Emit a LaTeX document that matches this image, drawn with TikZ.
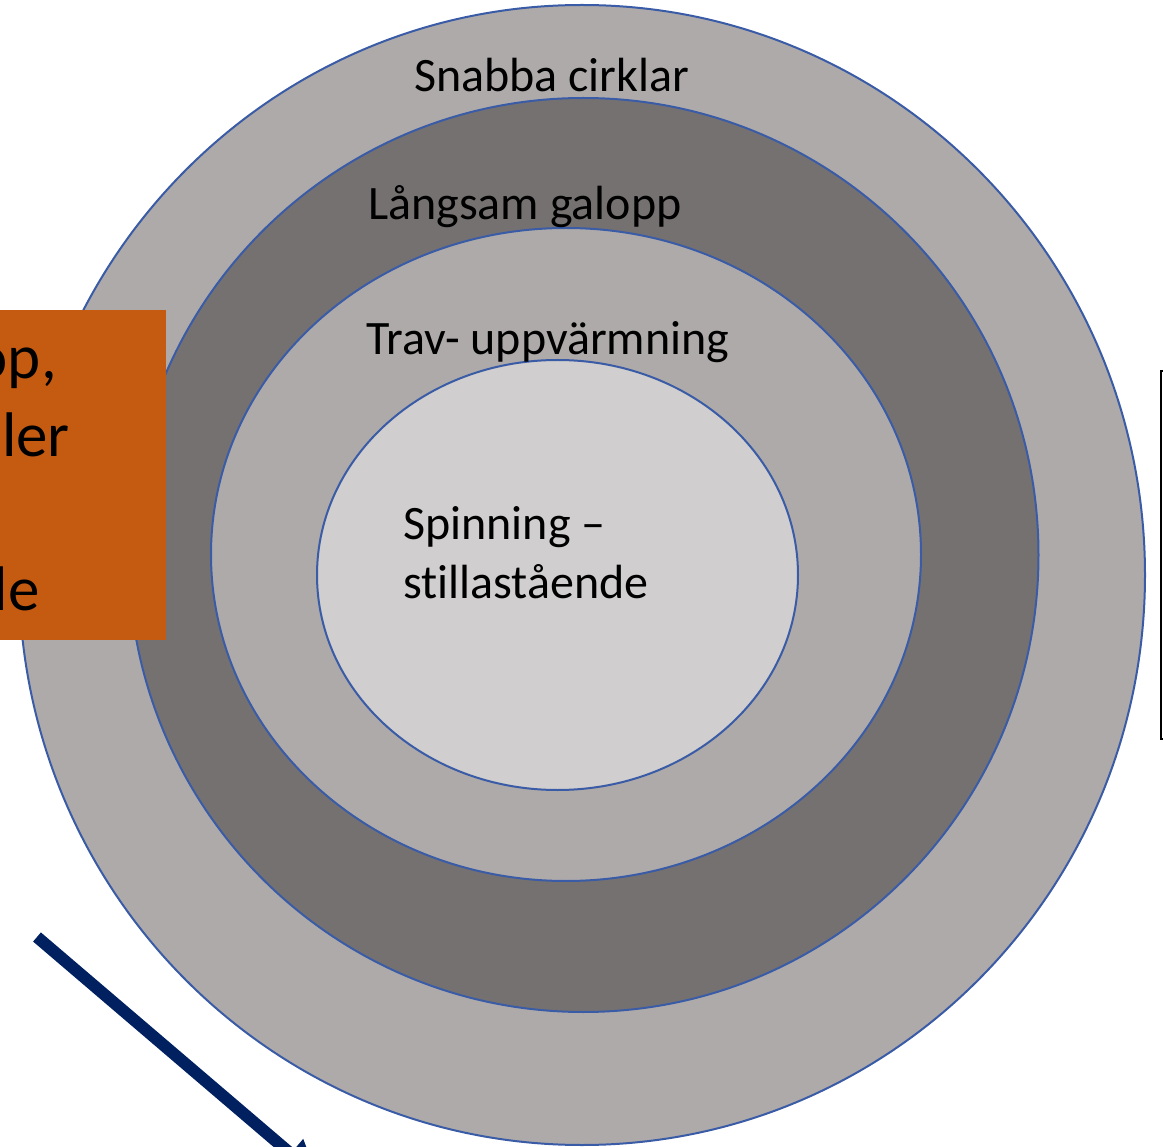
\documentclass[tikz,border=0pt]{standalone}
\usepackage{fontspec}
\setmainfont[Ligatures=NoCommon]{Carlito}
\usetikzlibrary{arrows.meta}
\definecolor{ringlight}{HTML}{AEAAAA}
\definecolor{ringdark}{HTML}{767171}
\definecolor{ringcore}{HTML}{D0CECE}
\definecolor{ringline}{HTML}{3A5CA6}
\definecolor{boxorange}{HTML}{C55A11}
\definecolor{arrownavy}{HTML}{002060}
\tikzset{
  ring/.style={draw=ringline, line width=2pt},
  lbl/.style={anchor=base west, inner sep=0pt, font=\fontsize{48}{58.5}\selectfont, text=black, align=left},
  frag/.style={anchor=base east, inner sep=0pt, font=\fontsize{63}{77}\selectfont, text=black},
}
\begin{document}
\begin{tikzpicture}[x=1pt,y=-1pt]
\useasboundingbox (0,0) rectangle (1163,1147);
\clip (0,0) rectangle (1163,1147);
% rings
\fill[ringlight, ring] (582,575) ellipse [x radius=563, y radius=570];
\fill[ringdark, ring] (583.5,555) ellipse [x radius=455, y radius=457];
\fill[ringlight, ring] (566,554.5) ellipse [x radius=355, y radius=326.5];
\fill[ringcore, ring] (557.5,575) ellipse [x radius=240.5, y radius=215];
% labels
\node[lbl] (snabba) at (414,92) {Snabba cirklar};
\node[lbl] (langsam) at (368,220) {Långsam galopp};
\node[lbl] (trav) at (366,355) {Trav- uppvärmning};
\node[lbl] (spin) at (403,598) {Spinning –\\stillastående};
% orange box
\fill[boxorange] (0,310) rectangle (166,640);
\begin{scope}
\clip (0,310) rectangle (166,640);
\node[frag] (o1) at (57,379) {op,};
\node[frag] (o2) at (70,457) {ler};
\node[frag] (o3) at (40,610) {le};
\end{scope}
% right box
\draw[black, line width=1.5pt, fill=white] (1161,371) rectangle (1200,739);
% arrow
\coordinate (arrS) at (37,937);
\coordinate (arrE) at (318,1177);
\draw[arrownavy, line width=12pt, -{Triangle[length=36pt,width=36pt]}] (arrS) -- (arrE);
\end{tikzpicture}
\end{document}
